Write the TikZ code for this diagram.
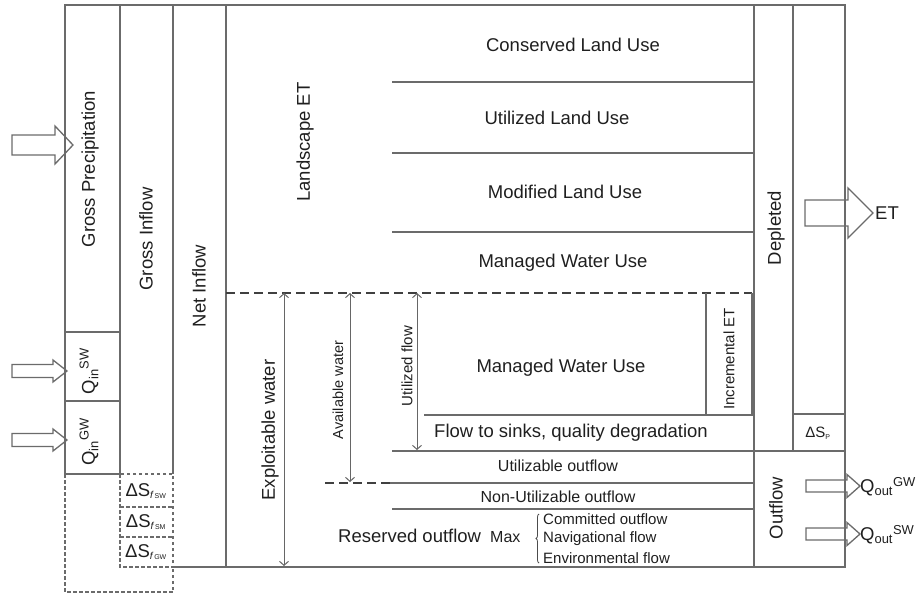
\documentclass[tikz,border=0pt]{standalone}
\usepackage{fontspec}
\setmainfont{Liberation Sans}
\usetikzlibrary{arrows.meta,decorations.pathreplacing}

\tikzset{
	wall/.style={draw=black!58, line width=1.3pt},
	thinwall/.style={wall, dash pattern=on 3.5pt off 2.5pt},
	boldwall/.style={draw=black!75, line width=1.8pt, dash pattern=on 9pt off 5pt},
	txt/.style={text=black!88, inner sep=0pt, font=\fontsize{18.5}{21}\selectfont},
	smalltxt/.style={txt, font=\fontsize{15}{17}\selectfont},
	vert/.style={rotate=90},
	fat/.style={draw=black!58, line width=1.3pt, fill=white},
	span/.style={draw=black!60, line width=1pt, <->, >={Straight Barb[length=4pt,width=9pt]}},
}

\begin{document}
\begin{tikzpicture}[x=1pt,y=-1pt]
	\useasboundingbox (0,0) rectangle (922,598);

	% block arrows in and out
	\draw[fat] (12,135)--(55,135)--(55,126)--(73,145)--(55,164)--(55,155)--(12,155)--cycle;
	\draw[fat] (12,364.5)--(53,364.5)--(53,360)--(67,371)--(53,382)--(53,377.5)--(12,377.5)--cycle;
	\draw[fat] (12,433.5)--(53,433.5)--(53,429)--(67,440)--(53,451)--(53,446.5)--(12,446.5)--cycle;
	\draw[fat] (805,200)--(848,200)--(848,188)--(873,213)--(848,238)--(848,226)--(805,226)--cycle;
	\draw[fat] (806,480)--(847,480)--(847,474.5)--(860,486)--(847,497.5)--(847,492)--(806,492)--cycle;
	\draw[fat] (806,528)--(847,528)--(847,522.5)--(860,534)--(847,545.5)--(847,540)--(806,540)--cycle;

	% outer frame and columns
	\draw[wall] (65,474)--(65,5)--(845,5)--(845,567)--(173,567);
	\draw[wall] (120,5)--(120,474) (173,5)--(173,474) (226,5)--(226,567);
	\draw[wall] (754,5)--(754,567) (793,5)--(793,451);
	\draw[wall] (65,332)--(120,332) (65,401)--(120,401) (65,474)--(120,474);

	% storage boxes below the inflow
	\draw[thinwall] (120,474) rectangle (173,567);
	\draw[thinwall] (120,507)--(173,507) (120,537)--(173,537);
	\draw[thinwall] (65,474)--(65,592)--(173,592)--(173,567);

	% landscape rows
	\draw[wall] (392,82)--(754,82) (392,153)--(754,153) (392,232)--(754,232);
	\draw[boldwall] (226,293)--(752,293);

	% incremental ET box and lower rows
	\draw[wall] (706,293)--(706,415) (752,293)--(752,415);
	\draw[wall] (424,415)--(754,415) (793,414)--(845,414);
	\draw[wall] (392,451)--(845,451);
	\draw[boldwall, line width=1.5pt] (325,483)--(390,483);
	\draw[wall] (390,483)--(754,483) (392,509)--(754,509);

	% labels of the inflow side
	\node[txt,vert] (grossPrec) at (90,169) {Gross Precipitation};
	\node[txt,vert] (grossIn) at (146,239) {Gross Inflow};
	\node[txt,vert] (netIn) at (199,286) {Net Inflow};
	\node[txt,vert] (qinSW) at (89,371) {Q\textsubscript{in}\textsuperscript{SW}};
	\node[txt,vert] (qinGW) at (89,442) {Q\textsubscript{in}\textsuperscript{GW}};
	\node[txt] (dsfSW) at (146,491) {ΔS\textsubscript{\fontsize{10}{10}\selectfont\itshape f\,\fontsize{7}{7}\selectfont\upshape SW}};
	\node[txt] (dsfSM) at (146,522) {ΔS\textsubscript{\fontsize{10}{10}\selectfont\itshape f\,\fontsize{7}{7}\selectfont\upshape SM}};
	\node[txt] (dsfGW) at (146,552) {ΔS\textsubscript{\fontsize{10}{10}\selectfont\itshape f\,\fontsize{7}{7}\selectfont\upshape GW}};

	% landscape ET rows
	\node[txt,vert] (landET) at (305,142) {Landscape ET};
	\node[txt] (consLU) at (573,45) {Conserved Land Use};
	\node[txt] (utilLU) at (557,118) {Utilized Land Use};
	\node[txt] (modLU) at (565,192) {Modified Land Use};
	\node[txt] (manWU) at (563,263) {Managed Water Use};

	% exploitable water part
	\node[txt] (manWUb) at (561,368) {Managed Water Use};
	\node[smalltxt,vert] (incrET) at (729,359) {Incremental ET};
	\node[txt] (sinks) at (571,433) {Flow to sinks, quality degradation};
	\node[smalltxt, font=\fontsize{16}{18}\selectfont] (utilOut) at (558,466) {Utilizable outflow};
	\node[smalltxt, font=\fontsize{16}{18}\selectfont] (nonUtilOut) at (558,497) {Non-Utilizable outflow};
	\node[txt, anchor=west] (resOut) at (338,536) {Reserved outflow};
	\node[smalltxt, font=\fontsize{16}{18}\selectfont, anchor=west] (maxOut) at (490,537) {Max};
	\node[smalltxt, anchor=west] (commOut) at (543,519) {Committed outflow};
	\node[smalltxt, anchor=west] (navFlow) at (543,538.5) {Navigational flow};
	\node[smalltxt, anchor=west] (envFlow) at (543,558) {Environmental flow};

	\coordinate (braceBot) at (539,563);
	\coordinate (braceTop) at (539,514);
	\draw[draw=black!70, line width=0.8pt, decorate, decoration={brace, amplitude=3pt}] (braceBot) -- (braceTop);

	% spans of the water parts
	\coordinate (exTop) at (284,293);
	\coordinate (exBot) at (284,566);
	\draw[span] (exTop) -- (exBot);
	\node[txt,vert] (exploit) at (270,430) {Exploitable water};

	\coordinate (avTop) at (350,293);
	\coordinate (avBot) at (350,482);
	\draw[span] (avTop) -- (avBot);
	\node[smalltxt,vert, font=\fontsize{14.5}{16}\selectfont] (avail) at (338,390) {Available water};

	\coordinate (ufTop) at (417,293);
	\coordinate (ufBot) at (417,450);
	\draw[span] (ufTop) -- (ufBot);
	\node[smalltxt,vert] (utilFlow) at (407,366) {Utilized flow};

	% outflow side
	\node[txt,vert] (depl) at (776,228) {Depleted};
	\node[smalltxt] (dsP) at (818,433) {ΔS\textsubscript{\fontsize{7}{7}\selectfont P}};
	\node[txt,vert] (outfl) at (776,508) {Outflow};
	\node[txt, anchor=west] (etOut) at (875,213) {ET};
	\node[txt, anchor=west] (qoutGW) at (860,487) {Q\textsubscript{out}\textsuperscript{GW}};
	\node[txt, anchor=west] (qoutSW) at (860,535) {Q\textsubscript{out}\textsuperscript{SW}};

\end{tikzpicture}
\end{document}
